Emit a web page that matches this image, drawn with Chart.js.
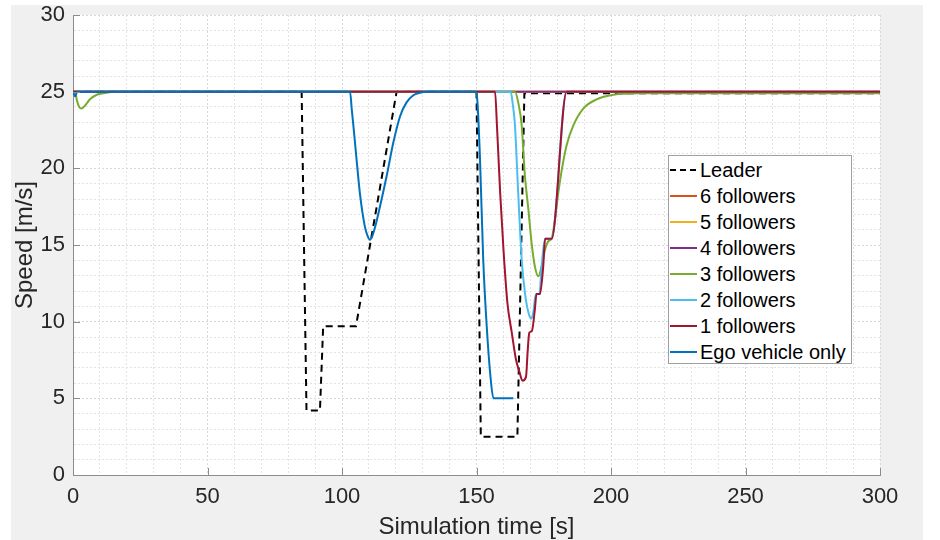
<!DOCTYPE html>
<html><head><meta charset="utf-8">
<script src="https://cdn.jsdelivr.net/npm/chart.js@4.4.0/dist/chart.umd.min.js"></script>
<style>
html,body{margin:0;padding:0;background:#fff;}
#wrap{position:relative;width:940px;height:540px;}
canvas{display:block;}
#legend{position:absolute;left:668px;top:155px;width:184px;height:209px;border:1px solid #a0a0a0;background:#fff;
  font-family:'Liberation Sans',Arial,sans-serif;font-size:20px;color:#000;padding-top:1px;box-sizing:border-box;}
.row{height:26px;display:flex;align-items:center;white-space:nowrap;}
.row svg{margin-left:1px;margin-right:3px;flex:none;}
</style></head>
<body><div id="wrap"><canvas id="c" width="940" height="540"></canvas><div id="legend"></div></div>
<script>
// ---- data ----
const seriesNames = ['Leader','6 followers','5 followers','4 followers','3 followers','2 followers','1 followers','Ego vehicle only'];

const leaderT = [0, 85, 86.8, 91.8, 93, 105.2, 120.3, 150, 151.6, 165.2, 167.8, 300];
const leaderV = [25, 25, 4.2, 4.2, 9.7, 9.7, 25, 25, 2.5, 2.5, 24.9, 24.9];

const f6T = [0, 300];
const f6V = [25, 25];
const f5T = [0, 300];
const f5V = [25, 25];
const f4T = [0, 300];
const f4V = [25, 25];

const f3T = [0, 0.7, 1.5, 2.3, 3.2, 4.5, 6.3, 8.8, 11.3, 16.2, 164.3, 165.5, 166.8, 168, 169.3, 170.5, 171.7, 173, 174.2, 175.5, 176.7, 177.9, 179.2, 180.4, 181.7, 183.5, 186, 189.7, 194.7, 200.9, 210, 300];
const f3V = [25, 25, 24.4, 24.0, 23.9, 24.1, 24.5, 24.8, 24.9, 25, 25, 24.3, 22.8, 19.5, 17.3, 15.1, 13.6, 12.96, 13.6, 14.7, 15.25, 15.4, 16.7, 18.4, 19.9, 21.5, 22.8, 23.9, 24.5, 24.8, 24.9, 24.9];

const f2T = [0, 162.7, 163.4, 164.3, 165.5, 166.8, 168, 169.3, 170.4, 171.1, 172.1, 173.4, 174.2, 175.5, 177.9, 183.5, 300];
const f2V = [25, 25, 24.3, 22.8, 18.4, 14.05, 11.9, 10.6, 10.2, 10.6, 11.8, 11.8, 13.6, 15.4, 15.4, 25, 25];

const f1T = [0, 156.9, 157.6, 158.8, 160.1, 161.5, 163.1, 164.6, 166.0, 167.1, 168.4, 169.0, 169.6, 170.6, 171.7, 172.3, 173.6, 174.8, 175.5, 177.9, 183.5, 300];
const f1V = [25, 25, 22.8, 18.4, 14.5, 11.2, 9.3, 7.6, 6.7, 6.15, 6.4, 8.0, 9.26, 9.4, 10.8, 11.8, 11.8, 13.6, 15.4, 15.4, 25, 25];

const egoT = [0, 0.8, 1.6, 103, 103.6, 104.5, 105.4, 106.7, 108.5, 109.5, 110.4, 111.3, 112.5, 114.1, 116.6, 119.1, 121.6, 124, 126.4, 129, 131.5, 135, 150, 150.4, 151.3, 152.5, 153.8, 155.2, 156.3, 163.7];
const egoV = [25, 24.7, 25, 25, 23.9, 22.3, 20.6, 18.3, 16.2, 15.6, 15.35, 15.6, 16.3, 17.5, 19.5, 21.7, 23.4, 24.3, 24.75, 24.93, 25, 25, 25, 24.2, 20.6, 14.05, 9.7, 6.4, 5.0, 5.0];

const xTickLabels = [0, 50, 100, 150, 200, 250, 300];
const yTickLabels = [0, 5, 10, 15, 20, 25, 30];

// ---- styles ----
const seriesT = [leaderT, f6T, f5T, f4T, f3T, f2T, f1T, egoT];
const seriesV = [leaderV, f6V, f5V, f4V, f3V, f2V, f1V, egoV];
const seriesColors = ['#000000','#D95319','#EDB120','#7E2F8E','#77AC30','#4DBEEE','#A2142F','#0072BD'];
const FONT = "'Liberation Sans', Arial, Helvetica, sans-serif";

const datasets = seriesNames.map((name, i) => ({
  label: name,
  data: seriesT[i].map((t, k) => ({x: t, y: seriesV[i][k]})),
  borderColor: seriesColors[i],
  backgroundColor: seriesColors[i],
  borderWidth: 2,
  borderDash: i === 0 ? [7, 5] : [],
  pointRadius: 0,
  fill: false,
  tension: 0,
  cubicInterpolationMode: i === 0 ? 'default' : 'monotone',
  order: seriesNames.length - i
}));

const bgPlugin = {
  id: 'bg',
  beforeDraw(chart) {
    const ctx = chart.ctx, a = chart.chartArea;
    ctx.save();
    ctx.fillStyle = '#ffffff';
    ctx.fillRect(0, 0, chart.width, chart.height);
    ctx.fillStyle = '#f0f0f0';
    ctx.fillRect(11, 5, 912, 535);
    ctx.fillStyle = '#ffffff';
    ctx.fillRect(a.left, a.top, a.right - a.left, a.bottom - a.top);
    ctx.restore();
  }
};

const tickPlugin = {
  id: 'inticks',
  afterDraw(chart) {
    const ctx = chart.ctx, a = chart.chartArea;
    const xs = chart.scales.x, ys = chart.scales.y;
    ctx.save();
    ctx.strokeStyle = '#8c8c8c';
    ctx.lineWidth = 1;
    ctx.beginPath();
    yTickLabels.forEach(v => {
      const p = Math.round(ys.getPixelForValue(v)) + 0.5;
      ctx.moveTo(a.left, p); ctx.lineTo(a.left + 7, p);
    });
    xTickLabels.forEach(v => {
      const p = Math.round(xs.getPixelForValue(v)) + 0.5;
      ctx.moveTo(p, a.bottom); ctx.lineTo(p, a.bottom - 7);
    });
    ctx.stroke();
    ctx.restore();
  }
};

const gridColor = major => (major ? '#d8d8d8' : '#e3e3e3');

new Chart(document.getElementById('c'), {
  type: 'line',
  data: { datasets },
  plugins: [bgPlugin, tickPlugin],
  options: {
    responsive: false,
    animation: false,
    devicePixelRatio: 1,
    layout: { padding: { left: 0, right: 60, top: 15, bottom: 0 } },
    plugins: { legend: { display: false }, tooltip: { enabled: false } },
    scales: {
      x: {
        type: 'linear', min: 0, max: 300,
        ticks: {
          stepSize: 10, autoSkip: false, maxRotation: 0, padding: 9,
          color: '#262626', font: { family: FONT, size: 22 },
          callback: v => (xTickLabels.includes(v) ? String(v) : '')
        },
        grid: { drawTicks: false, lineWidth: 1, color: c => gridColor(c.tick && xTickLabels.includes(c.tick.value)) },
        border: { display: true, color: '#8c8c8c', width: 1, dash: [2, 2] },
        title: { display: true, text: 'Simulation time [s]', color: '#262626',
          font: { family: FONT, size: 24, lineHeight: 1 }, padding: { top: 0, bottom: 1 } },
        afterFit(s) { s.height = 65; s.paddingLeft = 0; }
      },
      y: {
        type: 'linear', min: 0, max: 30,
        ticks: {
          stepSize: 1, autoSkip: false, padding: 8,
          color: '#262626', font: { family: FONT, size: 22 },
          callback: v => (yTickLabels.includes(v) ? String(v) : '')
        },
        grid: { drawTicks: false, lineWidth: 1, color: c => gridColor(c.tick && yTickLabels.includes(c.tick.value)) },
        border: { display: true, color: '#8c8c8c', width: 1, dash: [2, 2] },
        title: { display: true, text: 'Speed [m/s]', color: '#262626',
          font: { family: FONT, size: 24, lineHeight: 1.2 }, padding: { top: 11, bottom: 0 } },
        afterFit(s) { s.width = 73; s.paddingTop = 0; s.paddingBottom = 0; }
      }
    }
  }
});

// legend (HTML, built from the series names/colours)
const leg = document.getElementById('legend');
seriesNames.forEach((name, i) => {
  const row = document.createElement('div');
  row.className = 'row';
  const dash = i === 0 ? ' stroke-dasharray="6,4"' : '';
  row.innerHTML = '<svg width="27" height="4"><line x1="0" y1="2" x2="27" y2="2" stroke="' + seriesColors[i] +
    '" stroke-width="2"' + dash + '/></svg>';
  const sp = document.createElement('span');
  sp.textContent = name;
  row.appendChild(sp);
  leg.appendChild(row);
});
</script>
</body></html>
